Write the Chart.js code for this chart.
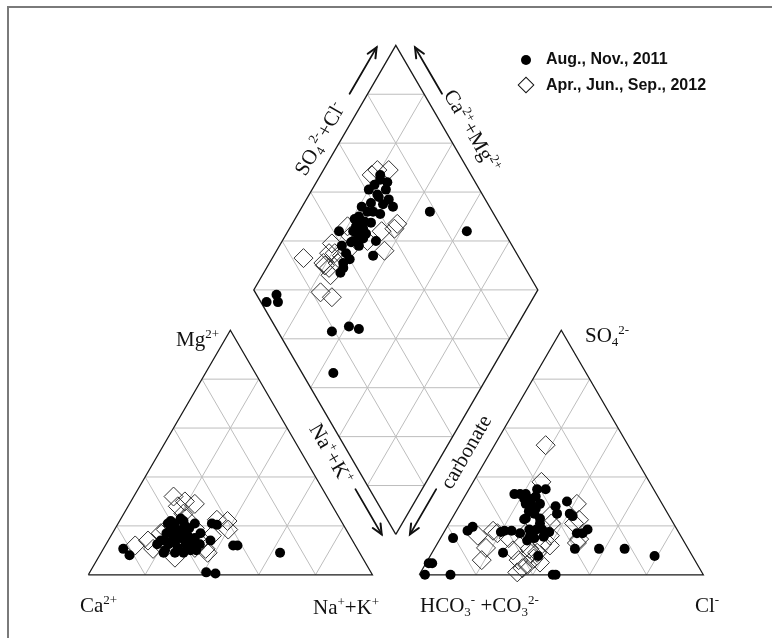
<!DOCTYPE html>
<html>
  <head>
    <meta charset="UTF-8">
    <title>Piper diagram</title>
    <script src="https://cdn.jsdelivr.net/npm/chart.js@4.4.1/dist/chart.umd.min.js"></script>
    <style>
      body { margin: 0; background: #fff; }
      #wrap { position: relative; width: 772px; height: 638px; overflow: hidden; }
      #piper { position: absolute; left: 0; top: 0; }
      .frame { position: absolute; left: 7px; top: 6px; width: 800px; height: 700px;
               border-left: 2px solid #7a7a7a; border-top: 2px solid #7a7a7a; }
      .lbl { position: absolute; font-family: "Liberation Serif", "Times New Roman", serif;
             font-size: 21px; line-height: 21px; color: #111; white-space: nowrap; }
      .rot { transform: translate(-50%, -50%) rotate(var(--a)); }
      .lbl sup { font-size: 13px; line-height: 0; vertical-align: 8px; }
      .lbl sub { font-size: 13px; line-height: 0; vertical-align: -4px; }
      .leg { position: absolute; font-family: "Liberation Sans", Arial, sans-serif; font-weight: bold;
             font-size: 16px; line-height: 16px; color: #111; white-space: nowrap; }
      .dot { position: absolute; width: 10px; height: 10px; border-radius: 50%; background: #000; }
      .dia { position: absolute; width: 10px; height: 10px; border: 1.5px solid #111; transform: rotate(45deg); }
    </style>
  </head>
  <body>
    <div id="wrap">
      <canvas id="piper" width="772" height="638"></canvas>
      <div class="frame"></div>

      <div class="dot" style="left:521px;top:55px"></div>
      <div class="leg" style="left:546px;top:51px">Aug., Nov., 2011</div>
      <div class="dia" style="left:519.5px;top:78.5px"></div>
      <div class="leg" style="left:546px;top:77px">Apr., Jun., Sep., 2012</div>

      <div class="lbl" style="left:176px;top:329px">Mg<sup>2+</sup></div>
      <div class="lbl" style="left:80px;top:595px">Ca<sup>2+</sup></div>
      <div class="lbl" style="left:313px;top:597px">Na<sup>+</sup>+K<sup>+</sup></div>
      <div class="lbl" style="left:585px;top:325px">SO<sub>4</sub><sup>2-</sup></div>
      <div class="lbl" style="left:420px;top:595px">HCO<sub>3</sub><sup>-</sup> +CO<sub>3</sub><sup>2-</sup></div>
      <div class="lbl" style="left:695px;top:595px">Cl<sup>-</sup></div>

      <div class="lbl rot" style="left:320px;top:139px;--a:-60deg">SO<sub>4</sub><sup>2-</sup>+Cl<sup>-</sup></div>
      <div class="lbl rot" style="left:472px;top:131px;--a:60deg">Ca<sup>2+</sup>+Mg<sup>2+</sup></div>
      <div class="lbl rot" style="left:331px;top:454px;--a:60deg">Na<sup>+</sup>+K<sup>+</sup></div>
      <div class="lbl rot" style="left:466px;top:452px;--a:-60deg">carbonate</div>
    </div>

    <script>
      // cation triangle, [Na+K %, Mg %]
      const cation2011 = [
        [7, 10.6], [10.5, 8], [63, 9], [45, 12], [46.5, 12], [41, 1], [44.5, 0.5],
        [33, 21], [35, 20.5], [36, 14],
        [19, 17], [19.5, 19], [20, 21], [21, 23], [22.5, 15], [25, 15], [25.6, 17], [26, 19],
        [22, 12.5], [26, 11], [28, 12.5], [30, 13], [30, 15], [22, 10], [26, 9], [29, 9],
        [31, 10], [33, 12.5], [18.5, 14], [17.5, 21], [22.5, 22], [28, 14], [18, 12.5],
        [24, 20], [27, 16], [23, 18], [18, 22], [27, 21], [31, 17], [20, 14], [24, 13],
        [28, 15], [24, 19], [21, 18], [22, 9], [33, 10]
      ];
      const cation2012 = [
        [14, 32], [19, 30], [23, 29], [17.5, 28], [23, 23], [18, 18.5], [17, 17], [17.5, 10.6],
        [27, 7], [32, 11], [33, 14], [36, 10.6], [37.5, 9], [34, 22.5], [38, 22], [40, 18.5],
        [10.5, 12], [20, 12], [35.5, 16], [21, 25], [28, 19], [14, 14]
      ];

      // anion triangle, [Cl %, SO4 %]
      const anion2011 = [
        [2, 0], [11, 0], [47, 0], [48, 0], [1, 4.7], [2.2, 4.7], [4.4, 15], [8, 18], [9, 19.6],
        [20, 17.5], [21, 18], [23.5, 18], [25, 9], [17, 33], [19, 33], [24, 35], [27, 35],
        [23, 29], [26, 28], [28, 29], [25.6, 26], [28, 25], [34, 28], [37, 30], [36, 25],
        [40.5, 25], [42, 24], [29.5, 18.5], [32, 18.5], [34, 18.5], [37, 17.5], [31, 16],
        [31, 14], [38, 7.7], [47, 17], [49, 17], [50, 18.5], [49.5, 10.6], [58, 10.6],
        [67, 10.6], [79, 7.7], [21.5, 31], [25, 32], [31, 23], [25.6, 22.7], [36, 15.6],
        [21, 33], [24, 31], [27.5, 27], [26, 23], [32, 21], [27, 17], [33, 15]
      ];
      const anion2012 = [
        [18, 53], [24, 38], [41, 29], [45, 22.5], [49, 13], [12.6, 16], [18, 11], [19, 6],
        [17, 18], [24, 15], [28, 10], [32, 6], [34, 1], [33.5, 10.6], [37, 6.6], [37, 12.6],
        [38, 16], [34, 24], [40, 5], [35, 2.7], [44, 21], [49, 14.6], [36, 21], [40, 12],
        [19, 17], [36, 4], [35, 8.6], [37, 9], [29, 17]
      ];

      // diamond, [Na+K %, SO4+Cl %]
      const diamond2011 = [
        [46, 78], [63, 87], [7, 2], [9, 7], [11, 6], [36, 19], [41, 26], [45, 29], [45, 11],
        [21, 68], [22, 67], [25, 69], [20, 61], [24, 63], [29, 66], [32, 66], [28, 63],
        [21, 55], [24, 56], [22, 52], [21, 50], [25, 53], [23, 49], [25, 50], [23, 47],
        [18, 42], [26, 48], [25, 45], [28, 46], [33, 53], [35, 49], [22, 40], [26, 37],
        [27, 34], [26, 58], [25, 63], [26, 51], [22, 51], [25, 40], [24.5, 44], [28, 51],
        [27.5, 55], [23.5, 59], [21, 64], [26, 67], [28, 49], [27.5, 40], [27, 36],
        [23.4, 50], [29, 60]
      ];
      const diamond2012 = [
        [19, 68], [23, 72], [37, 64], [37, 62], [33, 57], [38, 54], [30, 50], [20, 46],
        [23, 45], [18, 37], [19, 34], [11, 24], [19, 30], [22, 31], [24, 30], [24, 38],
        [24, 23], [29, 26], [20, 30], [24, 35], [25, 41], [21, 36], [18, 65]
      ];

      const seriesLabels = ['Aug., Nov., 2011', 'Apr., Jun., Sep., 2012'];

      // geometry, in triangle-side units
      const S = 100;
      const H = S * Math.sqrt(3) / 2;
      const GAP = 16.5;
      const PX = 2.92;                    // pixels per unit
      const ORIGIN = { x: 80, y: 583.5 };  // pixel of the Ca2+ corner

      const CAT = [{ x: 0, y: 0 }, { x: S, y: 0 }, { x: S / 2, y: H }];
      const AN = [{ x: S + GAP, y: 0 }, { x: 2 * S + GAP, y: 0 }, { x: S + GAP + S / 2, y: H }];
      const DB = { x: S + GAP / 2, y: GAP / 2 * Math.sqrt(3) };
      const DL = { x: DB.x - S / 2, y: DB.y + H };
      const DR = { x: DB.x + S / 2, y: DB.y + H };
      const DT = { x: DB.x, y: DB.y + 2 * H };

      function lerp(p, q, t) {
        return { x: p.x + (q.x - p.x) * t, y: p.y + (q.y - p.y) * t };
      }

      function cationXY(p) {
        return { x: S * (p[0] / 100 + p[1] / 200), y: H * p[1] / 100 };
      }
      function anionXY(p) {
        return { x: AN[0].x + S * (p[0] / 100 + p[1] / 200), y: H * p[1] / 100 };
      }
      function diamondXY(p) {
        let c = p[0] / 100, a = p[1] / 100;
        return { x: DB.x - (S / 2) * (1 - c) + (S / 2) * a, y: DB.y + H * (1 - c) + H * a };
      }

      function triGrid(a, b, c) {
        let segs = [];
        for (let k = 1; k < 5; k++) {
          let t = k / 5;
          segs.push([lerp(a, c, t), lerp(b, c, t)]);
          segs.push([lerp(a, b, t), lerp(a, c, t)]);
          segs.push([lerp(a, b, t), lerp(b, c, 1 - t)]);
        }
        return segs;
      }

      function diamondGrid() {
        let segs = [];
        for (let k = 1; k < 5; k++) {
          let t = k / 5;
          segs.push([lerp(DB, DR, t), lerp(DL, DT, t)]);
          segs.push([lerp(DB, DL, t), lerp(DR, DT, t)]);
        }
        for (let k = 1; k < 10; k++) {
          if (k <= 5) segs.push([lerp(DB, DL, k / 5), lerp(DB, DR, k / 5)]);
          else segs.push([lerp(DL, DT, (k - 5) / 5), lerp(DR, DT, (k - 5) / 5)]);
        }
        return segs;
      }

      function toPath(segs) {
        let out = [];
        for (let s of segs) {
          out.push(...s, { x: null, y: null });
        }
        return out;
      }

      let gridSegs = [...triGrid(...CAT), ...triGrid(...AN), ...diamondGrid()];
      let outline = [
        CAT[0], CAT[1], CAT[2], CAT[0], { x: null, y: null },
        AN[0], AN[1], AN[2], AN[0], { x: null, y: null },
        DB, DR, DT, DL, DB
      ];

      // arrows alongside the diamond edges
      const center = lerp(DL, DR, 0.5);
      function edgeArrow(p, q, f0, f1, off) {
        let dx = q.x - p.x, dy = q.y - p.y, len = Math.hypot(dx, dy);
        let n = { x: -dy / len, y: dx / len };
        let mid = lerp(p, q, 0.5);
        if ((mid.x - center.x) * n.x + (mid.y - center.y) * n.y < 0) n = { x: -n.x, y: -n.y };
        let a = lerp(p, q, f0), b = lerp(p, q, f1);
        return {
          from: { x: a.x + n.x * off, y: a.y + n.y * off },
          to: { x: b.x + n.x * off, y: b.y + n.y * off }
        };
      }
      const arrows = [
        edgeArrow(DL, DT, 0.77, 0.96, 5.5),
        edgeArrow(DR, DT, 0.77, 0.96, 5.5),
        edgeArrow(DB, DL, 0.21, 0.025, 4.3),
        edgeArrow(DB, DR, 0.21, 0.025, 4.3)
      ];

      const arrowPlugin = {
        id: 'edgeArrows',
        afterDatasetsDraw(chart) {
          let ctx = chart.ctx, xs = chart.scales.x, ys = chart.scales.y;
          ctx.save();
          ctx.strokeStyle = '#111';
          ctx.lineCap = 'round';
          for (let ar of arrows) {
            let x0 = xs.getPixelForValue(ar.from.x), y0 = ys.getPixelForValue(ar.from.y);
            let x1 = xs.getPixelForValue(ar.to.x), y1 = ys.getPixelForValue(ar.to.y);
            let ang = Math.atan2(y1 - y0, x1 - x0);
            ctx.lineWidth = 1.8;
            ctx.beginPath();
            ctx.moveTo(x0, y0);
            ctx.lineTo(x1, y1);
            ctx.stroke();
            ctx.lineWidth = 2;
            ctx.beginPath();
            ctx.moveTo(x1 - 11 * Math.cos(ang - 0.42), y1 - 11 * Math.sin(ang - 0.42));
            ctx.lineTo(x1, y1);
            ctx.lineTo(x1 - 11 * Math.cos(ang + 0.42), y1 - 11 * Math.sin(ang + 0.42));
            ctx.stroke();
          }
          ctx.restore();
        }
      };

      let points2011 = [...cation2011.map(cationXY), ...anion2011.map(anionXY), ...diamond2011.map(diamondXY)];
      let points2012 = [...cation2012.map(cationXY), ...anion2012.map(anionXY), ...diamond2012.map(diamondXY)];

      const ctx = document.getElementById('piper').getContext('2d');
      let piperChart = new Chart(ctx, {
        type: 'scatter',
        data: {
          datasets: [{
            label: seriesLabels[0],
            data: points2011,
            pointStyle: 'circle',
            pointRadius: 5,
            backgroundColor: '#000',
            borderColor: '#000',
            borderWidth: 0
          }, {
            label: seriesLabels[1],
            data: points2012,
            pointStyle: 'rectRot',
            pointRadius: 9.5,
            backgroundColor: 'rgba(0,0,0,0)',
            borderColor: '#333',
            borderWidth: 1
          }, {
            label: 'outline',
            data: outline,
            showLine: true,
            pointRadius: 0,
            borderColor: '#1a1a1a',
            borderWidth: 1.3,
            spanGaps: false
          }, {
            label: 'grid',
            data: toPath(gridSegs),
            showLine: true,
            pointRadius: 0,
            borderColor: '#bdbdbd',
            borderWidth: 1,
            spanGaps: false
          }]
        },
        options: {
          responsive: false,
          animation: false,
          devicePixelRatio: 1,
          layout: { padding: 0 },
          plugins: { legend: { display: false }, tooltip: { enabled: false } },
          scales: {
            x: { type: 'linear', display: false, min: -ORIGIN.x / PX, max: (772 - ORIGIN.x) / PX },
            y: { type: 'linear', display: false, min: (ORIGIN.y - 638) / PX, max: ORIGIN.y / PX }
          }
        },
        plugins: [arrowPlugin]
      });
    </script>
  </body>
</html>
